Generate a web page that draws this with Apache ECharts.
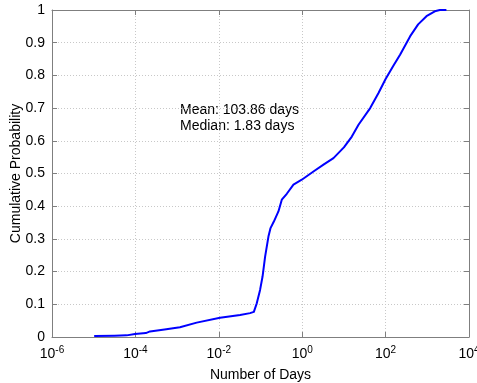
<!DOCTYPE html>
<html>
<head>
<meta charset="utf-8">
<script src="https://cdn.jsdelivr.net/npm/echarts@6/dist/echarts.min.js"></script>
<style>html,body{margin:0;padding:0;background:#fff;}#c{width:477px;height:383px;}</style>
</head>
<body>
<div id="c"></div>
<script>
// Data
const days = [1.07e-5, 3.16e-5, 6.17e-5, 9.77e-5, 1.78e-4, 2.24e-4, 5.01e-4, 1.17e-3, 2.95e-3, 1.07e-2,
  3.24e-2, 5.62e-2, 6.92e-2, 8.13e-2, 9.77e-2, 0.112, 0.129, 0.155, 0.174, 0.209,
  0.269, 0.324, 0.427, 0.617, 0.977, 1.86, 3.24, 5.62, 10.0, 15.5,
  22.4, 42.7, 67.6, 100, 151, 224, 389, 603, 955, 1514,
  1995, 2754];
const cumProb = [0.003, 0.004, 0.005, 0.009, 0.012, 0.017, 0.023, 0.030, 0.044, 0.059,
  0.067, 0.073, 0.077, 0.103, 0.144, 0.185, 0.246, 0.307, 0.333, 0.353,
  0.384, 0.420, 0.438, 0.466, 0.481, 0.506, 0.527, 0.547, 0.580, 0.613,
  0.649, 0.700, 0.746, 0.789, 0.828, 0.864, 0.920, 0.956, 0.981, 0.996,
  1.000, 1.000];
const xTickExponents = [-6, -4, -2, 0, 2, 4];
const annotationLines = ['Mean: 103.86 days', 'Median: 1.83 days'];

const FONT = '"Liberation Sans", Arial, Helvetica, sans-serif';
const AXIS_COLOR = '#7f7f7f';
const chart = echarts.init(document.getElementById('c'), null, {renderer: 'canvas'});

const gridLine = {show: true, lineStyle: {color: '#c8c8c8', type: [1, 2], width: 1}};

const option = {
  animation: false,
  backgroundColor: '#fff',
  grid: {left: 52, right: 8, top: 10, bottom: 46, containLabel: false, outerBoundsMode: 'none'},
  xAxis: [{
    type: 'log', logBase: 10, min: 1e-6, max: 1e4, interval: 2,
    position: 'bottom',
    name: 'Number of Days', nameLocation: 'middle', nameGap: 31,
    nameTextStyle: {fontFamily: FONT, fontSize: 14, color: '#000'},
    axisLine: {show: true, onZero: false, lineStyle: {color: AXIS_COLOR}},
    axisTick: {show: true, inside: true, length: 5, lineStyle: {color: AXIS_COLOR}},
    minorTick: {show: false},
    splitLine: gridLine,
    axisLabel: {
      margin: 8,
      formatter: function (v) {
        const e = Math.round(Math.log10(v));
        return '{b|10}{s|' + e + '}';
      },
      rich: {
        b: {fontFamily: FONT, fontSize: 14, color: '#000', verticalAlign: 'bottom', lineHeight: 16},
        s: {fontFamily: FONT, fontSize: 10, color: '#000', verticalAlign: 'top', lineHeight: 16, padding: [0, 0, 8, 0]}
      }
    }
  }, {
    type: 'log', logBase: 10, min: 1e-6, max: 1e4, interval: 2,
    position: 'top',
    axisLine: {show: true, onZero: false, lineStyle: {color: AXIS_COLOR}},
    axisTick: {show: true, inside: true, length: 5, lineStyle: {color: AXIS_COLOR}},
    axisLabel: {show: false}, splitLine: {show: false}
  }],
  yAxis: [{
    type: 'value', min: 0, max: 1, interval: 0.1,
    position: 'left',
    name: 'Cumulative Probability', nameLocation: 'middle', nameGap: 29, nameMoveOverlap: false,
    nameTextStyle: {fontFamily: FONT, fontSize: 14, color: '#000'},
    axisLine: {show: true, onZero: false, lineStyle: {color: AXIS_COLOR}},
    axisTick: {show: true, inside: true, length: 5, lineStyle: {color: AXIS_COLOR}},
    splitLine: gridLine,
    axisLabel: {fontFamily: FONT, fontSize: 14, color: '#000', margin: 7}
  }, {
    type: 'value', min: 0, max: 1, interval: 0.1,
    position: 'right',
    axisLine: {show: true, onZero: false, lineStyle: {color: AXIS_COLOR}},
    axisTick: {show: true, inside: true, length: 5, lineStyle: {color: AXIS_COLOR}},
    axisLabel: {show: false}, splitLine: {show: false}
  }],
  graphic: [{
    type: 'text', left: 180, top: 102,
    style: {text: annotationLines.join('\n'), font: '14px ' + FONT, fill: '#000', lineHeight: 16}
  }],
  series: [{
    type: 'line', xAxisIndex: 0, yAxisIndex: 0,
    data: days.map((d, i) => [d, cumProb[i]]),
    showSymbol: false, symbol: 'none', smooth: false,
    lineStyle: {color: '#0000ff', width: 2, join: 'round', cap: 'round'}
  }]
};
chart.setOption(option);
</script>
</body>
</html>
